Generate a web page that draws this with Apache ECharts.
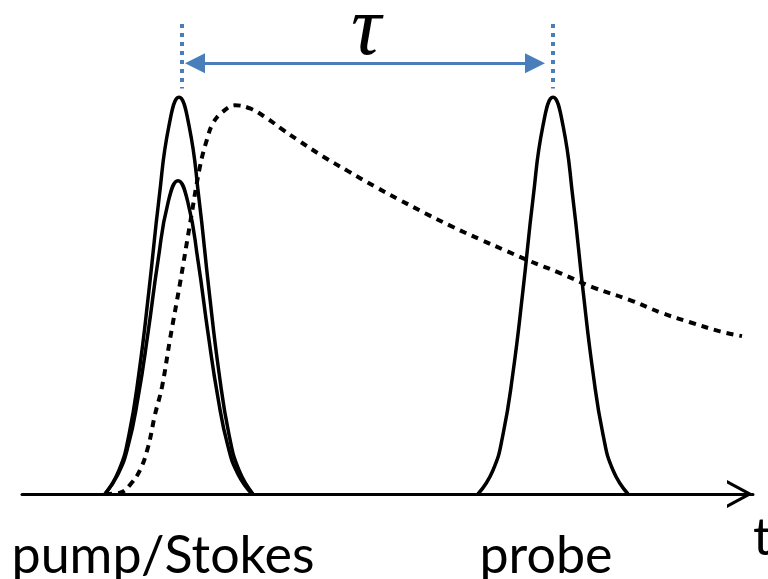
<!DOCTYPE html>
<html>
<head>
<meta charset="utf-8">
<script src="https://cdn.jsdelivr.net/npm/echarts@6/dist/echarts.min.js"></script>
<style>
  html, body { margin: 0; padding: 0; background: #fff; }
  #chart { width: 768px; height: 579px; }
</style>
</head>
<body>
<div id="chart"></div>
<script>
// pump pulse (tall) and Stokes pulse (lower), same centre
var pumpT = [83, 97, 107, 117, 127, 137, 147, 157, 167, 177, 187, 197, 207, 217, 231];
var pumpAmp = [0, 0.06, 0.15, 0.306, 0.514, 0.744, 0.929, 1, 0.929, 0.744, 0.514, 0.306, 0.15, 0.06, 0];
var stokesT = [83, 96, 106, 116, 126, 136, 146, 156, 166, 176, 186, 196, 206, 216, 230];
var stokesAmp = [0, 0.05, 0.12, 0.242, 0.406, 0.588, 0.734, 0.79, 0.734, 0.588, 0.406, 0.242, 0.12, 0.05, 0];
// probe pulse after delay tau
var probeT = [456, 471, 481, 491, 501, 511, 521, 531, 541, 551, 561, 571, 581, 591, 606];
var probeAmp = [0, 0.06, 0.15, 0.306, 0.514, 0.744, 0.929, 1, 0.929, 0.744, 0.514, 0.306, 0.15, 0.06, 0];
// dashed response curve (rise then slow decay)
var decayT = [83, 98, 108, 118, 126, 133, 140, 148, 158, 168, 178, 185, 191, 200, 213, 228, 245, 261, 276, 301, 326, 353, 378, 403, 431, 458, 485, 508, 538, 571, 608, 638, 668, 698, 720];
var decayAmp = [0, 0.003, 0.023, 0.06, 0.118, 0.2, 0.27, 0.39, 0.531, 0.681, 0.826, 0.894, 0.935, 0.962, 0.98, 0.972, 0.947, 0.918, 0.892, 0.851, 0.814, 0.775, 0.741, 0.708, 0.673, 0.642, 0.612, 0.587, 0.557, 0.521, 0.489, 0.458, 0.433, 0.410, 0.398];
// tau marker: pulse centres and heights of the annotations
var markT = [160, 531];
var arrowT = [173, 513];
var arrowY = 1.086;
var guideY = [1.185, 1.022];

var blue = '#4a7ebb';

function zip(xs, ys) {
  var out = [];
  for (var i = 0; i < xs.length; i++) out.push([xs[i], ys[i]]);
  return out;
}

var pulseStyle = { color: '#000', width: 3.5 };

var option = {
  animation: false,
  backgroundColor: '#fff',
  grid: { left: 22, right: 15, top: 18, bottom: 85 },
  xAxis: {
    type: 'value',
    min: 0,
    max: 731,
    axisLine: {
      onZero: false,
      lineStyle: { color: '#000', width: 3 },
      symbol: ['none', 'path://M0,26 L14,0 L28,26 L24.5,26 L14,6.5 L3.5,26 Z'],
      symbolSize: [28, 26],
      symbolOffset: [0, -13]
    },
    axisTick: { show: false },
    axisLabel: { show: false },
    splitLine: { show: false }
  },
  yAxis: {
    type: 'value',
    min: 0,
    max: 1.2,
    show: false
  },
  series: [{
    type: 'line',
    data: zip(pumpT, pumpAmp),
    smooth: true,
    showSymbol: false,
    lineStyle: pulseStyle
  }, {
    type: 'line',
    data: zip(stokesT, stokesAmp),
    smooth: true,
    showSymbol: false,
    lineStyle: pulseStyle
  }, {
    type: 'line',
    data: zip(probeT, probeAmp),
    smooth: true,
    showSymbol: false,
    lineStyle: pulseStyle,
    markLine: {
      silent: true,
      label: { show: false },
      emphasis: { disabled: true },
      data: [
        [{ coord: [markT[0], guideY[0]], symbol: 'none' }, { coord: [markT[0], guideY[1]], symbol: 'none',
          lineStyle: { color: blue, width: 4, type: [4, 5] } }],
        [{ coord: [markT[1], guideY[0]], symbol: 'none' }, { coord: [markT[1], guideY[1]], symbol: 'none',
          lineStyle: { color: blue, width: 4, type: [4, 5] } }],
        [{ coord: [arrowT[0], arrowY], symbol: 'triangle', symbolSize: 20 },
         { coord: [arrowT[1], arrowY], symbol: 'triangle', symbolSize: 20,
          lineStyle: { color: blue, width: 3, type: 'solid' } }]
      ],
      lineStyle: { color: blue, width: 3, type: 'solid' },
      itemStyle: { color: blue }
    }
  }, {
    type: 'line',
    data: zip(decayT, decayAmp),
    smooth: 0.4,
    showSymbol: false,
    clip: false,
    lineStyle: { color: '#000', width: 4, type: [7, 6] }
  }],
  graphic: [{
    type: 'text',
    x: 366,
    y: 32,
    style: { text: 'τ', font: 'italic 84px "Liberation Serif"', fill: '#000', textAlign: 'center', textVerticalAlign: 'middle' }
  }, {
    type: 'text',
    x: 163,
    y: 556,
    style: { text: 'pump/Stokes', font: '52px Lato', fill: '#000', textAlign: 'center', textVerticalAlign: 'middle' }
  }, {
    type: 'text',
    x: 546,
    y: 556,
    style: { text: 'probe', font: '52px Lato', fill: '#000', textAlign: 'center', textVerticalAlign: 'middle' }
  }, {
    type: 'text',
    x: 753,
    y: 538,
    style: { text: 't', font: '52px Lato', fill: '#000', textAlign: 'left', textVerticalAlign: 'middle' }
  }]
};

var myChart = echarts.init(document.getElementById('chart'));
myChart.setOption(option);
</script>
</body>
</html>
